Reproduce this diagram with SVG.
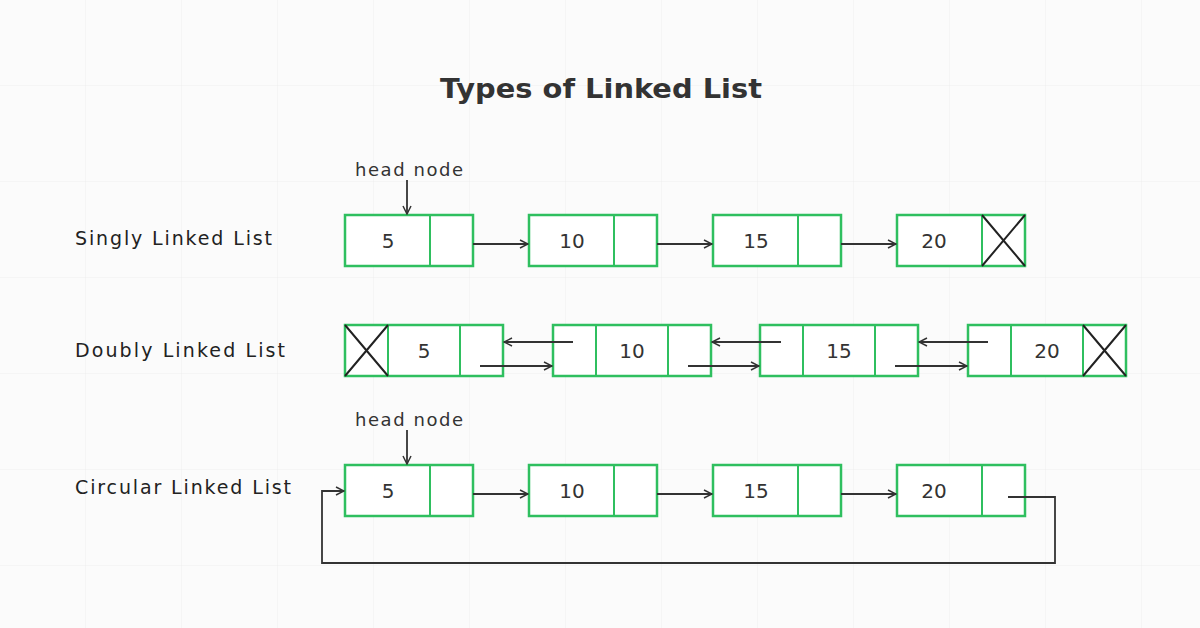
<svg xmlns="http://www.w3.org/2000/svg" width="1200" height="628" viewBox="0 0 1200 628">
<defs>
<marker id="ah" markerWidth="10" markerHeight="10" refX="9" refY="5" orient="auto" markerUnits="userSpaceOnUse"><path d="M1,1 L9,5 L1,9" fill="none" stroke="#333" stroke-width="1.5"/></marker>
<pattern id="grid" width="96" height="96" patternUnits="userSpaceOnUse" x="-10" y="-10"><path d="M96 0 V96 M0 96 H96" fill="none" stroke="#eeeeee" stroke-width="1"/></pattern>
</defs>
<style>
.box{fill:#fff;stroke:#2fbf5f;stroke-width:2.5}
.div{stroke:#2fbf5f;stroke-width:2}
.x{stroke:#222;stroke-width:2}
.ln{fill:none;stroke:#333;stroke-width:1.8}
.t{font-family:"DejaVu Sans","Liberation Sans",Arial,sans-serif;fill:#333}
.val{font-size:20px;text-anchor:middle}
.lbl{font-size:19px;fill:#222}
</style>
<rect width="1200" height="628" fill="#fbfbfb"/>
<rect width="1200" height="628" fill="url(#grid)"/>
<text class="t" x="440" y="98" font-size="27" font-weight="bold" textLength="322" lengthAdjust="spacingAndGlyphs" fill="#111">Types of Linked List</text>
<text class="t lbl" x="75" y="245" textLength="197">Singly Linked List</text>
<text class="t lbl" x="75" y="357" textLength="210">Doubly Linked List</text>
<text class="t lbl" x="75" y="494" textLength="216">Circular Linked List</text>
<text class="t" x="355" y="176" font-size="18" textLength="108">head node</text>
<text class="t" x="355" y="426" font-size="18" textLength="108">head node</text>

<g id="singly">
<g id="s1"><rect class="box" x="345" y="215" width="128" height="51"/><line class="div" x1="430" y1="215" x2="430" y2="266"/><text class="t val" x="388" y="248">5</text></g>
<g id="s2"><rect class="box" x="529" y="215" width="128" height="51"/><line class="div" x1="614" y1="215" x2="614" y2="266"/><text class="t val" x="572" y="248">10</text></g>
<g id="s3"><rect class="box" x="713" y="215" width="128" height="51"/><line class="div" x1="798" y1="215" x2="798" y2="266"/><text class="t val" x="756" y="248">15</text></g>
<g id="s4"><rect class="box" x="897" y="215" width="128" height="51"/><line class="div" x1="982" y1="215" x2="982" y2="266"/><text class="t val" x="934" y="248">20</text><path class="x" d="M982 215 L1025 266 M1025 215 L982 266"/></g>
</g>
<g id="doubly">
<g id="d1"><rect class="box" x="345" y="325" width="158" height="51"/><line class="div" x1="388" y1="325" x2="388" y2="376"/><line class="div" x1="460" y1="325" x2="460" y2="376"/><path class="x" d="M345 325 L388 376 M388 325 L345 376"/><text class="t val" x="424" y="358">5</text></g>
<g id="d2"><rect class="box" x="553" y="325" width="158" height="51"/><line class="div" x1="596" y1="325" x2="596" y2="376"/><line class="div" x1="668" y1="325" x2="668" y2="376"/><text class="t val" x="632" y="358">10</text></g>
<g id="d3"><rect class="box" x="760" y="325" width="158" height="51"/><line class="div" x1="803" y1="325" x2="803" y2="376"/><line class="div" x1="875" y1="325" x2="875" y2="376"/><text class="t val" x="839" y="358">15</text></g>
<g id="d4"><rect class="box" x="968" y="325" width="158" height="51"/><line class="div" x1="1011" y1="325" x2="1011" y2="376"/><line class="div" x1="1083" y1="325" x2="1083" y2="376"/><path class="x" d="M1083 325 L1126 376 M1126 325 L1083 376"/><text class="t val" x="1047" y="358">20</text></g>
</g>
<g id="circular">
<g id="c1"><rect class="box" x="345" y="465" width="128" height="51"/><line class="div" x1="430" y1="465" x2="430" y2="516"/><text class="t val" x="388" y="498">5</text></g>
<g id="c2"><rect class="box" x="529" y="465" width="128" height="51"/><line class="div" x1="614" y1="465" x2="614" y2="516"/><text class="t val" x="572" y="498">10</text></g>
<g id="c3"><rect class="box" x="713" y="465" width="128" height="51"/><line class="div" x1="798" y1="465" x2="798" y2="516"/><text class="t val" x="756" y="498">15</text></g>
<g id="c4"><rect class="box" x="897" y="465" width="128" height="51"/><line class="div" x1="982" y1="465" x2="982" y2="516"/><text class="t val" x="934" y="498">20</text></g>
</g>
<g id="connectors">
<line class="ln" x1="407" y1="180" x2="407" y2="214" marker-end="url(#ah)"/>
<line class="ln" x1="407" y1="430" x2="407" y2="464" marker-end="url(#ah)"/>
<line class="ln" x1="473" y1="244" x2="528" y2="244" marker-end="url(#ah)"/>
<line class="ln" x1="657" y1="244" x2="712" y2="244" marker-end="url(#ah)"/>
<line class="ln" x1="841" y1="244" x2="896" y2="244" marker-end="url(#ah)"/>
<line class="ln" x1="573" y1="342" x2="504" y2="342" marker-end="url(#ah)"/>
<line class="ln" x1="480" y1="366" x2="552" y2="366" marker-end="url(#ah)"/>
<line class="ln" x1="781" y1="342" x2="712" y2="342" marker-end="url(#ah)"/>
<line class="ln" x1="688" y1="366" x2="759" y2="366" marker-end="url(#ah)"/>
<line class="ln" x1="988" y1="342" x2="919" y2="342" marker-end="url(#ah)"/>
<line class="ln" x1="895" y1="366" x2="967" y2="366" marker-end="url(#ah)"/>
<line class="ln" x1="473" y1="494" x2="528" y2="494" marker-end="url(#ah)"/>
<line class="ln" x1="657" y1="494" x2="712" y2="494" marker-end="url(#ah)"/>
<line class="ln" x1="841" y1="494" x2="896" y2="494" marker-end="url(#ah)"/>
<path class="ln" d="M1008 497 H1055 V563 H322 V491 H344" marker-end="url(#ah)"/>
</g>
</svg>
